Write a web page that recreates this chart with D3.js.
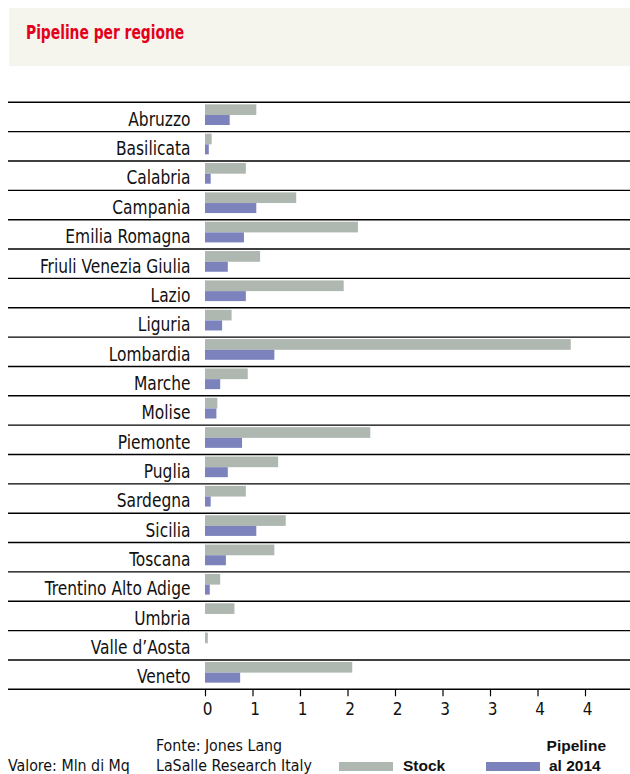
<!DOCTYPE html>
<html>
<head>
<meta charset="utf-8">
<script src="https://cdn.jsdelivr.net/npm/d3@7"></script>
<style>
  body { margin: 0; background: #fff; }
  svg { display: block; }
</style>
</head>
<body>
<div id="chart"></div>
<script>
// Regions, top to bottom
var regions = ["Abruzzo","Basilicata","Calabria","Campania","Emilia Romagna",
  "Friuli Venezia Giulia","Lazio","Liguria","Lombardia","Marche","Molise",
  "Piemonte","Puglia","Sardegna","Sicilia","Toscana","Trentino Alto Adige",
  "Umbria","Valle d\u2019Aosta","Veneto"];

// Mln di Mq
var stock    = [0.54,0.07,0.43,0.96,1.61,0.58,1.46,0.28,3.85,0.45,0.13,
                1.74,0.77,0.43,0.85,0.73,0.16,0.31,0.03,1.55];
var pipeline = [0.26,0.04,0.06,0.54,0.41,0.24,0.43,0.18,0.73,0.16,0.12,
                0.39,0.24,0.06,0.54,0.22,0.05,0,0,0.37];

var tickValues = [0,0.5,1,1.5,2,2.5,3,3.5,4];
var tickLabels = ["0","1","1","2","2","3","3","4","4"];

var width = 630, height = 774;
var narrow = "'DejaVu Sans Condensed','Liberation Sans Narrow',sans-serif";
var stockColor = "#afb8b0", pipeColor = "#7b82bc";

var svg = d3.select("#chart").append("svg")
  .attr("width", width)
  .attr("height", height);

// title box
svg.append("rect")
  .attr("x", 9).attr("y", 8)
  .attr("width", width - 9).attr("height", 58)
  .attr("fill", "#f5f4ed");
// the original face is much narrower, so squeeze it horizontally
svg.append("g")
  .attr("transform", "translate(26,38.5) scale(0.81,1)")
  .append("text")
    .attr("fill", "#e3001b")
    .style("font-family", narrow)
    .style("font-weight", "bold")
    .style("font-size", "19px")
    .text("Pipeline per regione");

var x = d3.scaleLinear().domain([0, 4]).range([205, 585]);
var y = d3.scaleBand().domain(regions).range([102.3, 689.3]).paddingInner(0);
var bw = y.bandwidth();

var rows = regions.map(function(name, i) {
  return { name: name, stock: stock[i], pipeline: pipeline[i] };
});

// row separators (the last one is the axis line)
svg.selectAll("line.sep")
  .data(regions.concat(["__end"]))
  .enter().append("line")
    .attr("class", "sep")
    .attr("x1", 8).attr("x2", width)
    .attr("y1", function(d, i) { return y.range()[0] + i * bw; })
    .attr("y2", function(d, i) { return y.range()[0] + i * bw; })
    .attr("stroke", "#000")
    .attr("stroke-width", 1.4);

// bars
svg.selectAll("rect.stock")
  .data(rows)
  .enter().append("rect")
    .attr("class", "stock")
    .attr("x", x(0))
    .attr("y", function(d) { return y(d.name) + 2; })
    .attr("width", function(d) { return x(d.stock) - x(0); })
    .attr("height", 10.7)
    .attr("fill", stockColor);

svg.selectAll("rect.pipe")
  .data(rows)
  .enter().append("rect")
    .attr("class", "pipe")
    .attr("x", x(0))
    .attr("y", function(d) { return y(d.name) + 12.7; })
    .attr("width", function(d) { return x(d.pipeline) - x(0); })
    .attr("height", 10)
    .attr("fill", pipeColor);

// region labels
svg.append("g")
  .attr("transform", "translate(190.5,0) scale(0.905,1)")
  .selectAll("text.lab")
  .data(rows)
  .enter().append("text")
    .attr("class", "lab")
    .attr("x", 0)
    .attr("y", function(d) { return y(d.name) + 23.5; })
    .attr("text-anchor", "end")
    .style("font-family", narrow)
    .style("font-size", "19px")
    .attr("fill", "#111")
    .text(function(d) { return d.name; });

// x axis
var axis = svg.append("g")
  .attr("transform", "translate(0," + y.range()[1] + ")")
  .call(d3.axisBottom(x)
    .tickValues(tickValues)
    .tickFormat(function(d, i) { return tickLabels[i]; })
    .tickSize(7)
    .tickSizeOuter(0));
axis.select(".domain").remove();
axis.selectAll(".tick line").attr("stroke", "#000").attr("stroke-width", 1.2);
axis.selectAll(".tick text")
  .attr("x", 2)
  .attr("y", 14)
  .attr("dy", "0.71em")
  .style("font-family", narrow)
  .style("font-size", "17px")
  .attr("fill", "#111");

// footer
var foot = svg.append("g")
  .style("font-family", narrow)
  .style("font-size", "15.8px")
  .attr("fill", "#111");
foot.append("text").attr("x", 8).attr("y", 770.5).text("Valore: Mln di Mq");
foot.append("text").attr("x", 156).attr("y", 751).text("Fonte: Jones Lang");
foot.append("text").attr("x", 156).attr("y", 770.5).text("LaSalle Research Italy");

// legend
var legend = svg.append("g")
  .style("font-family", "'Liberation Sans',Arial,sans-serif")
  .style("font-weight", "bold")
  .style("font-size", "15.5px")
  .attr("fill", "#111");
legend.append("rect").attr("x", 339).attr("y", 762)
  .attr("width", 54).attr("height", 9).attr("fill", stockColor);
legend.append("text").attr("x", 403).attr("y", 771).text("Stock");
legend.append("rect").attr("x", 486).attr("y", 762)
  .attr("width", 54).attr("height", 9).attr("fill", pipeColor);
legend.append("text").attr("x", 606).attr("y", 751)
  .attr("text-anchor", "end").text("Pipeline");
legend.append("text").attr("x", 549).attr("y", 771).text("al 2014");
</script>
</body>
</html>
